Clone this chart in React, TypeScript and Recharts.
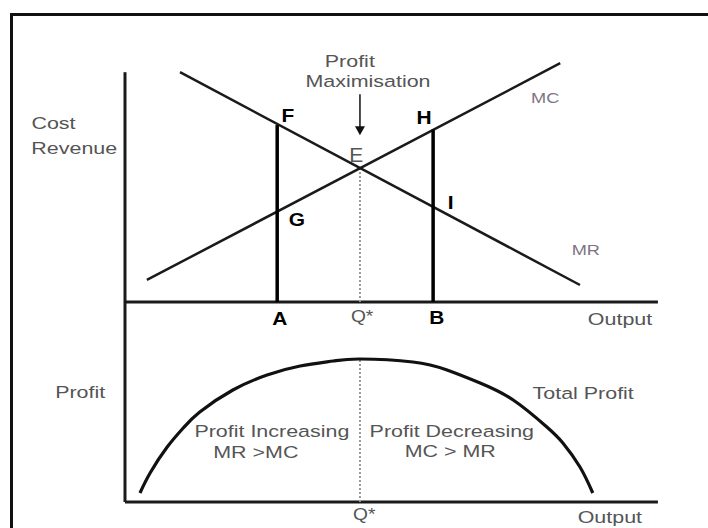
import React from "react";
import {
  ComposedChart,
  Line,
  XAxis,
  YAxis,
  ReferenceLine,
  ReferenceDot,
} from "recharts";

// Top panel: output (0-100) against cost / revenue (0-104)
const mrLine = [
  { x: 10.3, y: 100 },
  { x: 85.2, y: 7.4 },
];
const mcLine = [
  { x: 4.1, y: 9.6 },
  { x: 81.5, y: 103.9 },
];
const qStar = 44;
const eLevel = 58.2; // MR = MC
const outputA = 28.5;
const fLevel = 77; // MR at A
const outputB = 57.7;
const hLevel = 75; // MC at B
const arrowFrom = 90.4;
const arrowTip = 72.6;
const costAxisTop = 100;
const outputAxisEnd = 99.8;

// Bottom panel: total profit over the same output scale
const profitCurve = [
  { x: 2.8, y: 4.5 },
  { x: 4.7, y: 14.5 },
  { x: 7.9, y: 27.5 },
  { x: 10.9, y: 37 },
  { x: 14.0, y: 45 },
  { x: 20.2, y: 56 },
  { x: 26.6, y: 63.5 },
  { x: 32.8, y: 68 },
  { x: 39.0, y: 70.5 },
  { x: 44.0, y: 71.5 },
  { x: 53.9, y: 70 },
  { x: 60.3, y: 66 },
  { x: 66.5, y: 59.5 },
  { x: 72.7, y: 51 },
  { x: 79.0, y: 37.5 },
  { x: 82.0, y: 29.5 },
  { x: 85.2, y: 17.5 },
  { x: 87.6, y: 4.5 },
];
const profitPeak = 71.5;
const profitAxisTop = 100;

type Kind = "note" | "point" | "curve" | "eq" | "small";

const upperLabels: { x: number; y: number; text: string; kind: Kind }[] = [
  { x: 42.1, y: 104.6, text: "Profit", kind: "note" },
  { x: 45.5, y: 96.2, text: "Maximisation", kind: "note" },
  { x: 78.7, y: 88.7, text: "MC", kind: "curve" },
  { x: 86.3, y: 22.6, text: "MR", kind: "curve" },
  { x: 30.5, y: 81.3, text: "F", kind: "point" },
  { x: 32.2, y: 36.1, text: "G", kind: "point" },
  { x: 56.0, y: 80.4, text: "H", kind: "point" },
  { x: 61.0, y: 43.5, text: "I", kind: "point" },
  { x: 43.3, y: 63.9, text: "E", kind: "eq" },
  { x: 29.0, y: -7.0, text: "A", kind: "point" },
  { x: 58.4, y: -6.5, text: "B", kind: "point" },
  { x: 44.4, y: -6.3, text: "Q*", kind: "small" },
  { x: 92.7, y: -7.4, text: "Output", kind: "note" },
  { x: -13.4, y: 77.6, text: "Cost", kind: "note" },
  { x: -9.5, y: 66.8, text: "Revenue", kind: "note" },
];

const lowerLabels: { x: number; y: number; text: string; kind: Kind }[] = [
  { x: -8.4, y: 55, text: "Profit", kind: "note" },
  { x: 85.8, y: 54.5, text: "Total Profit", kind: "note" },
  { x: 27.5, y: 35.2, text: "Profit Increasing", kind: "note" },
  { x: 24.5, y: 25, text: "MR >MC", kind: "note" },
  { x: 61.2, y: 35.2, text: "Profit Decreasing", kind: "note" },
  { x: 60.9, y: 25.3, text: "MC > MR", kind: "note" },
  { x: 44.8, y: -6.5, text: "Q*", kind: "small" },
  { x: 90.8, y: -7.5, text: "Output", kind: "note" },
];

const FONT = "'Liberation Sans', Arial, sans-serif";

const STYLES: Record<Kind, { size: number; weight: number; fill: string; sx: number }> = {
  note: { size: 16.5, weight: 400, fill: "#555", sx: 1.3 },
  small: { size: 16, weight: 400, fill: "#555", sx: 1.2 },
  point: { size: 19, weight: 700, fill: "#000", sx: 1.1 },
  curve: { size: 14, weight: 400, fill: "#7d7585", sx: 1.3 },
  eq: { size: 20, weight: 400, fill: "#555", sx: 1.05 },
};

function tag(text: string, kind: Kind) {
  const s = STYLES[kind];
  return (p: any) => (
    <text
      transform={`translate(${p.cx},${p.cy}) scale(${s.sx},1)`}
      textAnchor="middle"
      dominantBaseline="central"
      fontSize={s.size}
      fontWeight={s.weight}
      fill={s.fill}
      fontFamily={FONT}
    >
      {text}
    </text>
  );
}

const arrowHead = (p: any) => (
  <polygon
    points={`${p.cx},${p.cy} ${p.cx - 5},${p.cy - 9} ${p.cx + 5},${p.cy - 9}`}
    fill="#111"
  />
);

const AXIS = { stroke: "#1a1a1a", strokeWidth: 3 };

export default function App() {
  return (
    <div
      style={{
        position: "absolute",
        left: 0,
        top: 0,
        width: 708,
        height: 528,
        overflow: "hidden",
        background: "#fff",
      }}
    >
      {/* frame, runs off the right and bottom edges */}
      <div
        style={{
          position: "absolute",
          left: 10,
          top: 13,
          width: 720,
          height: 540,
          border: "3px solid #111",
        }}
      />

      <div style={{ position: "absolute", left: 0, top: 0 }}>
        <ComposedChart
          width={708}
          height={330}
          margin={{ top: 63, right: 49, bottom: 28, left: 125 }}
        >
          <XAxis dataKey="x" type="number" domain={[0, 100]} hide />
          <YAxis type="number" domain={[0, 104]} hide />
          <ReferenceLine
            segment={[
              { x: 0, y: 0 },
              { x: 0, y: costAxisTop },
            ]}
            {...AXIS}
          />
          <ReferenceLine
            segment={[
              { x: 0, y: 0 },
              { x: outputAxisEnd, y: 0 },
            ]}
            {...AXIS}
          />
          <Line
            data={[
              { x: qStar, y: 0 },
              { x: qStar, y: eLevel },
            ]}
            dataKey="y"
            stroke="#999"
            strokeWidth={2}
            strokeDasharray="2 2"
            dot={false}
            isAnimationActive={false}
          />
          <Line
            data={mrLine}
            dataKey="y"
            stroke="#1a1a1a"
            strokeWidth={2.5}
            dot={false}
            isAnimationActive={false}
          />
          <Line
            data={mcLine}
            dataKey="y"
            stroke="#1a1a1a"
            strokeWidth={2.5}
            dot={false}
            isAnimationActive={false}
          />
          <Line
            data={[
              { x: outputA, y: 0 },
              { x: outputA, y: fLevel },
            ]}
            dataKey="y"
            stroke="#000"
            strokeWidth={3.5}
            dot={false}
            isAnimationActive={false}
          />
          <Line
            data={[
              { x: outputB, y: 0 },
              { x: outputB, y: hLevel },
            ]}
            dataKey="y"
            stroke="#000"
            strokeWidth={3.5}
            dot={false}
            isAnimationActive={false}
          />
          <Line
            data={[
              { x: qStar, y: arrowFrom },
              { x: qStar, y: arrowTip + 3 },
            ]}
            dataKey="y"
            stroke="#111"
            strokeWidth={1.5}
            dot={false}
            isAnimationActive={false}
          />
          <ReferenceDot x={qStar} y={arrowTip} r={0} shape={arrowHead} ifOverflow="visible" />
          {upperLabels.map((l, i) => (
            <ReferenceDot
              key={`u-${i}`}
              x={l.x}
              y={l.y}
              r={0}
              ifOverflow="visible"
              shape={tag(l.text, l.kind)}
            />
          ))}
        </ComposedChart>
      </div>

      <div style={{ position: "absolute", left: 0, top: 302 }}>
        <ComposedChart
          width={708}
          height={226}
          margin={{ top: 0, right: 49, bottom: 26, left: 125 }}
        >
          <XAxis dataKey="x" type="number" domain={[0, 100]} hide />
          <YAxis type="number" domain={[0, 100]} hide />
          <ReferenceLine
            segment={[
              { x: 0, y: 0 },
              { x: 0, y: profitAxisTop },
            ]}
            {...AXIS}
          />
          <ReferenceLine
            segment={[
              { x: 0, y: 0 },
              { x: outputAxisEnd, y: 0 },
            ]}
            {...AXIS}
          />
          <Line
            data={[
              { x: qStar, y: 0 },
              { x: qStar, y: profitPeak },
            ]}
            dataKey="y"
            stroke="#999"
            strokeWidth={2}
            strokeDasharray="2 2"
            dot={false}
            isAnimationActive={false}
          />
          <Line
            data={profitCurve}
            dataKey="y"
            type="natural"
            stroke="#111"
            strokeWidth={3.2}
            dot={false}
            isAnimationActive={false}
          />
          {lowerLabels.map((l, i) => (
            <ReferenceDot
              key={`l-${i}`}
              x={l.x}
              y={l.y}
              r={0}
              ifOverflow="visible"
              shape={tag(l.text, l.kind)}
            />
          ))}
        </ComposedChart>
      </div>
    </div>
  );
}
